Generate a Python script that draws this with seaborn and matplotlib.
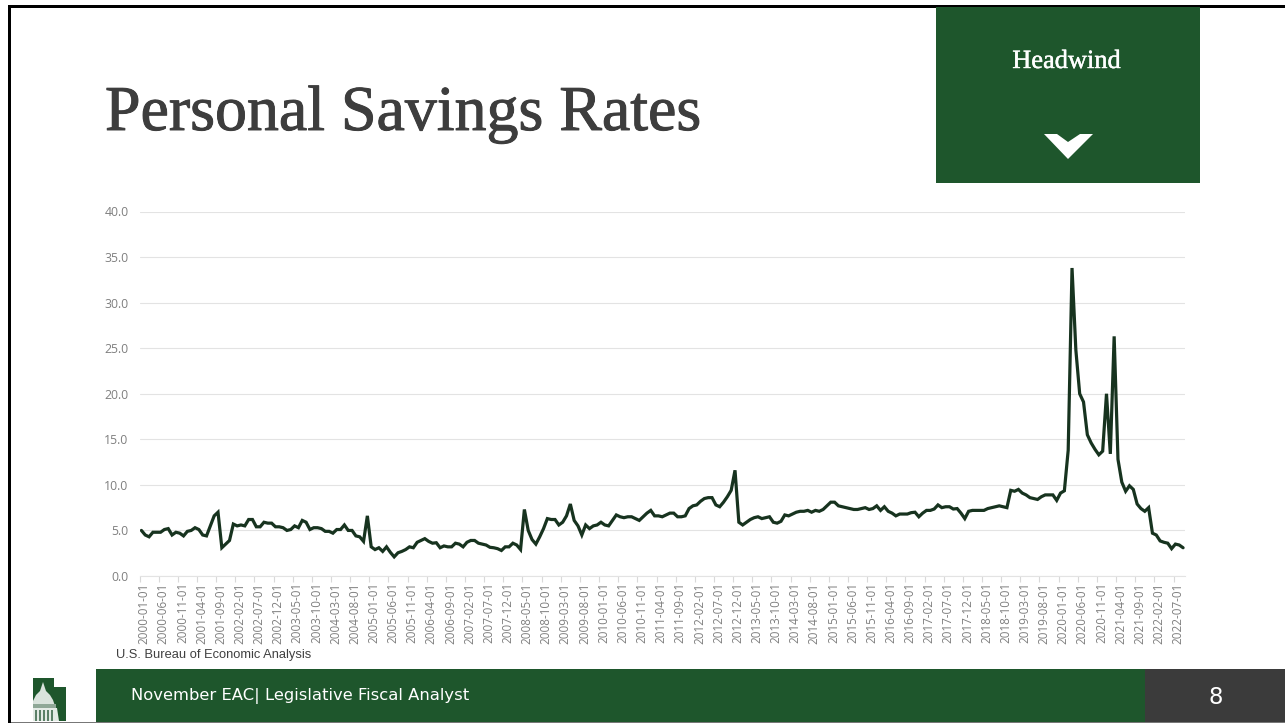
import matplotlib
matplotlib.use("Agg")
import matplotlib.pyplot as plt
from matplotlib.patches import Rectangle, Polygon
import matplotlib.patheffects as pe
import pandas as pd
import seaborn as sns

savings_rate = [
    5.0, 4.5, 4.3, 4.8, 4.8, 4.8, 5.1, 5.2, 4.5, 4.8, 4.7, 4.4,
    4.9, 5.0, 5.3, 5.1, 4.5, 4.4, 5.5, 6.6, 7.0, 3.1, 3.5, 3.9,
    5.7, 5.5, 5.6, 5.5, 6.2, 6.2, 5.4, 5.4, 5.9, 5.8, 5.8, 5.4,
    5.4, 5.3, 5.0, 5.1, 5.5, 5.3, 6.1, 5.9, 5.1, 5.3, 5.3, 5.2,
    4.9, 4.9, 4.7, 5.1, 5.1, 5.6, 5.0, 5.0, 4.4, 4.3, 3.8, 6.6,
    3.2, 2.9, 3.1, 2.7, 3.2, 2.6, 2.1, 2.55, 2.7, 2.9, 3.2, 3.1,
    3.7, 3.9, 4.1, 3.8, 3.6, 3.65, 3.1, 3.3, 3.2, 3.2, 3.6, 3.5,
    3.2, 3.7, 3.9, 3.9, 3.6, 3.5, 3.4, 3.15, 3.1, 3.0, 2.8, 3.2,
    3.2, 3.6, 3.4, 2.9, 7.3, 5.0, 4.0, 3.5, 4.3, 5.2, 6.3, 6.2,
    6.2, 5.6, 5.9, 6.6, 7.9, 6.1, 5.5, 4.5, 5.6, 5.2, 5.5, 5.6,
    5.9, 5.6, 5.5, 6.1, 6.7, 6.5, 6.4, 6.5, 6.5, 6.3, 6.1, 6.5,
    6.9, 7.2, 6.6, 6.6, 6.5, 6.7, 6.9, 6.9, 6.5, 6.5, 6.6, 7.4,
    7.7, 7.8, 8.2, 8.5, 8.6, 8.6, 7.8, 7.6, 8.1, 8.7, 9.4, 11.6,
    5.9, 5.6, 5.9, 6.2, 6.4, 6.5, 6.3, 6.4, 6.5, 5.9, 5.8, 6.0,
    6.7, 6.6, 6.8, 7.0, 7.1, 7.1, 7.2, 7.0, 7.2, 7.1, 7.3, 7.7,
    8.1, 8.1, 7.7, 7.6, 7.5, 7.4, 7.3, 7.3, 7.4, 7.5, 7.3, 7.4,
    7.7, 7.2, 7.6, 7.1, 6.9, 6.6, 6.8, 6.8, 6.8, 6.95, 7.0, 6.5,
    6.9, 7.2, 7.2, 7.35, 7.8, 7.5, 7.6, 7.6, 7.35, 7.4, 6.9, 6.3,
    7.1, 7.2, 7.2, 7.2, 7.2, 7.4, 7.5, 7.6, 7.7, 7.6, 7.5, 9.4,
    9.3, 9.5, 9.1, 8.9, 8.6, 8.5, 8.4, 8.7, 8.9, 8.9, 8.9, 8.3,
    9.1, 9.35, 13.8, 33.8, 24.8, 20.0, 19.1, 15.5, 14.6, 13.9, 13.3, 13.7,
    20.0, 13.4, 26.3, 12.8, 10.3, 9.3, 9.9, 9.5, 7.9, 7.4, 7.1, 7.5,
    4.7, 4.5, 3.85, 3.7, 3.6, 3.0, 3.5, 3.4, 3.1,
]
months = pd.date_range("2000-01-01", periods=len(savings_rate), freq="MS")
y_ticks = [0, 5, 10, 15, 20, 25, 30, 35, 40]

title_text = "Personal Savings Rates"
badge_text = "Headwind"
source_text = "U.S. Bureau of Economic Analysis"
footer_text = "November EAC| Legislative Fiscal Analyst"
page_number = "8"

GREEN = "#1e562c"
LINE = "#17331f"
W, H = 1285, 723

sns.set_theme(style="white")
fig = plt.figure(figsize=(W / 100, H / 100), dpi=100, facecolor="white")


def to_fig(px, py):
    return px / W, 1 - py / H


def box(x0, y0, x1, y1, color, z=1):
    fx, fy = to_fig(x0, y1)
    fig.add_artist(Rectangle((fx, fy), (x1 - x0) / W, (y1 - y0) / H,
                             transform=fig.transFigure, color=color, lw=0, zorder=z))


def poly(points, color, z=3):
    fig.add_artist(Polygon([to_fig(*p) for p in points], closed=True,
                           transform=fig.transFigure, color=color, lw=0, zorder=z))


ax_x0, ax_x1, ax_top, ax_bot = 139.5, 1185, 211.5, 576
ax = fig.add_axes([ax_x0 / W, 1 - ax_bot / H, (ax_x1 - ax_x0) / W, (ax_bot - ax_top) / H])
ax.set_facecolor("none")

# each month sits in the middle of its category slot
frame = pd.DataFrame({"position": [i + 0.5 for i in range(len(months))], "rate": savings_rate})
sns.lineplot(data=frame, x="position", y="rate", ax=ax, color=LINE, linewidth=2.3,
             errorbar=None, estimator=None, solid_joinstyle="miter")

ax.set_xlim(0, len(months))
ax.set_ylim(0, 40)
ax.set_xlabel("")
ax.set_ylabel("")
ax.set_yticks(y_ticks)
ax.set_yticklabels([f"{v:.1f}" for v in y_ticks], fontsize=8.8, color="#7f7f7f",
                   family="Open Sans")

# tick marks on the slot edges, date labels carried by minor ticks just to their right
tick_idx = list(range(0, len(months), 5))
ax.set_xticks(tick_idx)
ax.set_xticklabels([])
ax.set_xticks([i + 1.2 for i in tick_idx], minor=True)
ax.set_xticklabels([months[i].strftime("%Y-%m-%d") for i in tick_idx], minor=True,
                   rotation=90, fontsize=8.4, color="#7f7f7f", family="Open Sans")
ax.tick_params(axis="x", which="major", length=4, width=0.8, color="#d9d9d9", bottom=True)
ax.tick_params(axis="x", which="minor", length=3.5, width=0, pad=1, bottom=True)

ax.grid(axis="y", color="#e3e3e3", linewidth=0.8)
ax.set_axisbelow(True)
for side in ("top", "right", "left"):
    ax.spines[side].set_visible(False)
ax.spines["bottom"].set_color("#e3e3e3")
ax.spines["bottom"].set_linewidth(0.8)
ax.tick_params(axis="y", length=0, pad=8)

# slide frame
box(8, 5, W, 7.5, "black", 2)
box(8, 5, 11, H, "black", 2)
box(11, 722, W, H, "#777777", 2)

# heading and badge
title = fig.text(*to_fig(105, 130), title_text, fontsize=46, family="Liberation Serif",
                 color="#3d3d3d", va="baseline", ha="left", zorder=4)
title.set_path_effects([pe.withStroke(linewidth=0.7, foreground="#3d3d3d")])
box(936, 7, 1200, 183, GREEN, 3)
badge = fig.text(*to_fig(1066.5, 68), badge_text, fontsize=19, family="Liberation Serif",
                 color="white", ha="center", va="baseline", zorder=4)
badge.set_path_effects([pe.withStroke(linewidth=0.3, foreground="white")])
poly([(1044, 134), (1057, 134), (1068, 142), (1080, 134), (1093, 134), (1068, 159)], "white", 4)

fig.text(*to_fig(116, 655), source_text, fontsize=9.25, family="Liberation Sans",
         color="#404040", ha="left", va="center", zorder=4)

# footer bands
box(96, 669, 1145, 722, GREEN, 3)
box(1145, 669, W, 722, "#3b3b3b", 3)
fig.text(*to_fig(131, 696), footer_text, fontsize=11.75, family="DejaVu Sans",
         color="white", ha="left", va="center", zorder=4)
fig.text(*to_fig(1216, 698), page_number, fontsize=16.5, family="DejaVu Sans",
         color="white", ha="center", va="center", zorder=4)

# capitol emblem beside the footer
poly([(33, 678), (54, 678), (54, 687), (66, 687), (66, 721), (33, 721)], GREEN, 3)
poly([(43, 682), (45, 688), (46, 691), (50, 695), (53, 700), (55, 706), (33, 706), (33, 701),
      (36, 695), (40, 691), (41, 688)], "#d9e3dc", 4)
box(33, 704, 56, 708, "#8fa897", 5)
poly([(33, 708), (57, 708), (59, 721), (33, 721)], "#e4ebe6", 4)
for gx in (35, 39, 43, 47, 51):
    box(gx, 710, gx + 1.6, 721, "#5c8068", 5)

fig.savefig("out.png", dpi=100, facecolor="white")
